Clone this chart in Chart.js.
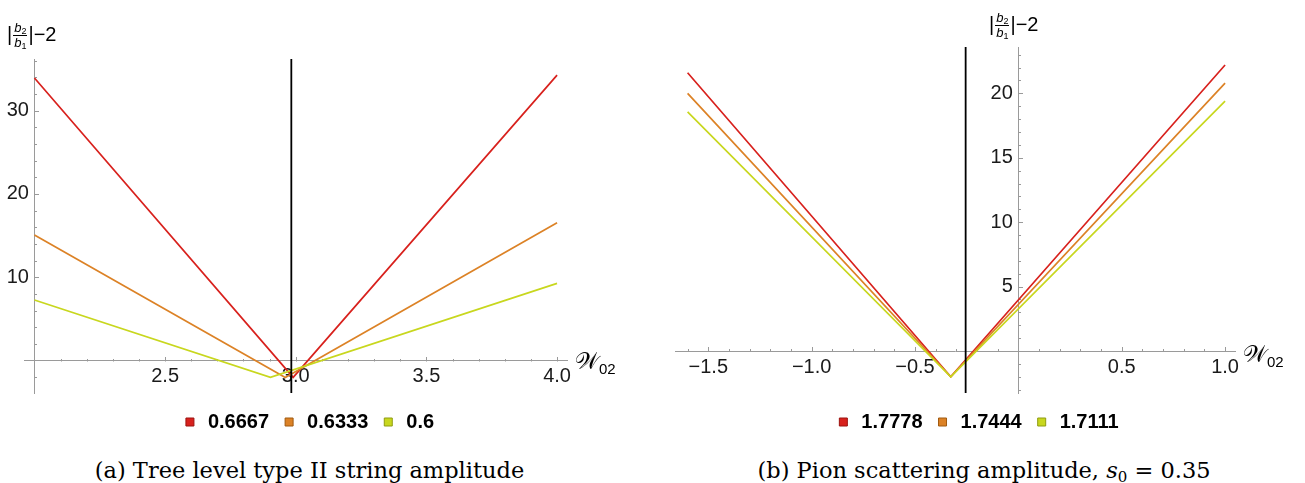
<!DOCTYPE html>
<html>
<head>
<meta charset="utf-8">
<script src="https://cdn.jsdelivr.net/npm/chart.js@4.4.1/dist/chart.umd.min.js"></script>
<style>
html,body{margin:0;padding:0;background:#fff;}
body{width:1305px;height:483px;position:relative;overflow:hidden;font-family:'Liberation Sans',Arial,sans-serif;}
.wrap{position:absolute;top:0;height:445px;}
#wl{left:0;width:640px;}
#wr{left:640px;width:665px;}
.yt{position:absolute;font-size:20px;line-height:20px;color:#000;white-space:nowrap;}
.frac{display:inline-block;vertical-align:middle;text-align:center;font-size:13px;line-height:12px;margin:0 1px;}
.frac .n{display:block;border-bottom:1px solid #000;padding:0 1px 1px 1px;}
.frac .d{display:block;padding-top:1px;}
.frac sub{font-size:9px;line-height:0;vertical-align:-2px;font-style:normal;}
.xt{position:absolute;font-size:23px;line-height:24px;color:#000;white-space:nowrap;font-family:'DejaVu Sans','DejaVu Serif',serif;}
.xt sub{font-family:'Liberation Sans',Arial,sans-serif;font-size:15px;line-height:0;vertical-align:-5px;}
.cap{position:absolute;top:457px;font-family:'DejaVu Serif',serif;font-size:22.5px;line-height:26px;white-space:nowrap;transform:translateX(-50%);color:#000;}
.cap sub{font-size:15px;line-height:0;vertical-align:-4px;}
</style>
</head>
<body>
<div class="wrap" id="wl"><canvas id="cl"></canvas></div>
<div class="wrap" id="wr"><canvas id="cr"></canvas></div>

<div class="yt" style="left:7px;top:22px;">|<span class="frac"><span class="n"><i>b</i><sub>2</sub></span><span class="d"><i>b</i><sub>1</sub></span></span>|&minus;2</div>
<div class="yt" style="left:989px;top:12px;">|<span class="frac"><span class="n"><i>b</i><sub>2</sub></span><span class="d"><i>b</i><sub>1</sub></span></span>|&minus;2</div>

<div class="xt" style="left:575px;top:349px;">&#x1D4B2;<sub>02</sub></div>
<div class="xt" style="left:1243px;top:342px;">&#x1D4B2;<sub>02</sub></div>

<div class="cap" style="left:309.5px;">(a) Tree level type II string amplitude</div>
<div class="cap" style="left:984px;">(b) Pion scattering amplitude, <i>s</i><sub>0</sub> = 0.35</div>

<script>
// ---------------- data ----------------
// Left panel: tree level type II string amplitude
const leftLabels = ['0.6667', '0.6333', '0.6'];
const leftRedX = [2.0, 2.99, 4.0];
const leftRedY = [33.9, -2.0, 34.25];
const leftOrangeX = [2.0, 2.96, 4.0];
const leftOrangeY = [15.07, -2.0, 16.55];
const leftYellowX = [2.0, 2.903, 4.0];
const leftYellowY = [7.28, -2.0, 9.28];
const leftCutX = 2.983;

// Right panel: pion scattering amplitude
const rightLabels = ['1.7778', '1.7444', '1.7111'];
const rightRedX = [-1.6, -0.327, 1.0];
const rightRedY = [21.6, -2.0, 22.2];
const rightOrangeX = [-1.6, -0.327, 1.0];
const rightOrangeY = [20.0, -2.0, 20.8];
const rightYellowX = [-1.6, -0.327, 1.0];
const rightYellowY = [18.56, -2.0, 19.4];
const rightCutX = -0.255;

// axes
const leftXRange = [1.96, 4.038];
const leftYRange = [-3.87, 36.18];
const leftOrigin = [2.0, 0];
const leftXStep = 0.1;
const leftYStep = 2;
const leftXTickLabels = [2.5, 3.0, 3.5, 4.0];
const leftYTickLabels = [10, 20, 30];

const rightXRange = [-1.661, 1.048];
const rightYRange = [-3.26, 23.6];
const rightOrigin = [0, 0];
const rightXStep = 0.1;
const rightYStep = 1;
const rightXTickLabels = [-1.5, -1.0, -0.5, 0.5, 1.0];
const rightYTickLabels = [5, 10, 15, 20];

// ---------------- styling ----------------
const COLORS = ['#d8211d', '#dc8226', '#c8d71e'];
const EDGES = ['#9c1410', '#a05a10', '#8f9c10'];
const AXIS = '#9a9a9a';
const TICKTEXT = '#1a1a1a';

Chart.defaults.font.family = "'Liberation Sans', Arial, sans-serif";

function pts(xs, ys) { return xs.map((x, i) => ({x: x, y: ys[i]})); }
function inList(v, arr) { return arr.some(a => Math.abs(a - v) < 1e-6); }
function fmtX(v) { return (v < 0 ? '\u2212' : '') + Math.abs(v).toFixed(1); }

const inwardTicks = {
  id: 'inwardTicks',
  beforeDatasetsDraw(chart, args, o) {
    const ctx = chart.ctx, xs = chart.scales.x, ys = chart.scales.y;
    const ax = Math.round(xs.getPixelForValue(o.origin[0])) + 0.5;
    const ay = Math.round(ys.getPixelForValue(o.origin[1])) + 0.5;
    ctx.save();
    ctx.strokeStyle = AXIS; ctx.lineWidth = 1;
    ctx.beginPath();
    xs.ticks.forEach(t => {
      if (Math.abs(t.value - o.origin[0]) < 1e-9) return;
      const p = Math.round(xs.getPixelForValue(t.value)) + 0.5;
      const len = inList(t.value, o.xMajor) ? 4.5 : 2.5;
      ctx.moveTo(p, ay); ctx.lineTo(p, ay - len);
    });
    ys.ticks.forEach(t => {
      if (Math.abs(t.value - o.origin[1]) < 1e-9) return;
      const p = Math.round(ys.getPixelForValue(t.value)) + 0.5;
      const len = inList(t.value, o.yMajor) ? 4.5 : 2.5;
      ctx.moveTo(ax, p); ctx.lineTo(ax + len, p);
    });
    ctx.stroke();
    ctx.restore();
  }
};

function series(label, xs, ys, i) {
  return {label: label, data: pts(xs, ys), showLine: true, pointRadius: 0, borderWidth: 1.7,
          borderColor: COLORS[i], backgroundColor: COLORS[i], legendEdge: EDGES[i],
          inLegend: true, order: 3 - i, tension: 0};
}

function makeChart(id, p) {
  const cutLine = {label: '', data: [{x: p.cutX, y: p.yRange[0]}, {x: p.cutX, y: p.yRange[1]}],
                   showLine: true, pointRadius: 0, borderWidth: 1.8, borderColor: '#000',
                   inLegend: false, order: 0};
  return new Chart(document.getElementById(id), {
    type: 'scatter',
    data: {datasets: p.series.concat([cutLine])},
    plugins: [inwardTicks],
    options: {
      responsive: true, maintainAspectRatio: false, animation: false, events: [],
      devicePixelRatio: 1,
      layout: {padding: p.padding},
      scales: {
        x: {
          type: 'linear', min: p.xRange[0], max: p.xRange[1], position: {y: p.origin[1]},
          grid: {display: true, drawOnChartArea: false, drawTicks: false},
          border: {display: true, color: AXIS, width: 1},
          ticks: {stepSize: p.xStep, autoSkip: false, includeBounds: false, maxRotation: 0, padding: 4,
                  color: TICKTEXT, font: {size: 20},
                  callback: v => inList(v, p.xLabels) ? fmtX(v) : ''}
        },
        y: {
          type: 'linear', min: p.yRange[0], max: p.yRange[1], position: {x: p.origin[0]},
          grid: {display: true, drawOnChartArea: false, drawTicks: false},
          border: {display: true, color: AXIS, width: 1},
          ticks: {stepSize: p.yStep, autoSkip: false, includeBounds: false, padding: 4,
                  color: TICKTEXT, font: {size: 20},
                  callback: v => inList(v, p.yLabels) ? String(v) + ' ' : ''}
        },
        yPad: {
          type: 'linear', position: 'right', display: true,
          grid: {display: false, drawTicks: false}, border: {display: false},
          ticks: {display: false},
          afterFit: s => { s.width = p.padAxis; }
        }
      },
      plugins: {
        tooltip: {enabled: false},
        inwardTicks: {origin: p.origin, xMajor: p.xLabels, yMajor: p.yLabels},
        legend: {
          display: true, position: 'bottom', align: 'center', fullSize: true,
          title: {display: true, text: ' ', font: {size: 5}, padding: {top: 1, bottom: 0}},
          labels: {
            usePointStyle: true, pointStyle: 'rect', boxWidth: 16, boxHeight: 8, padding: 12,
            color: '#000', font: {size: 20, weight: 'bold'},
            generateLabels: chart => chart.data.datasets.filter(d => d.inLegend).map(d => ({
              text: d.label, fillStyle: d.borderColor, strokeStyle: d.legendEdge, lineWidth: 1,
              pointStyle: 'rect', hidden: false, fontColor: '#000'
            }))
          }
        }
      }
    }
  });
}

makeChart('cl', {
  series: [series(leftLabels[0], leftRedX, leftRedY, 0),
           series(leftLabels[1], leftOrangeX, leftOrangeY, 1),
           series(leftLabels[2], leftYellowX, leftYellowY, 2)],
  cutX: leftCutX, xRange: leftXRange, yRange: leftYRange, origin: leftOrigin,
  xStep: leftXStep, yStep: leftYStep, xLabels: leftXTickLabels, yLabels: leftYTickLabels,
  padding: {left: 24, top: 59, right: 48, bottom: 3}, padAxis: 25
});

makeChart('cr', {
  series: [series(rightLabels[0], rightRedX, rightRedY, 0),
           series(rightLabels[1], rightOrangeX, rightOrangeY, 1),
           series(rightLabels[2], rightYellowX, rightYellowY, 2)],
  cutX: rightCutX, xRange: rightXRange, yRange: rightYRange, origin: rightOrigin,
  xStep: rightXStep, yStep: rightYStep, xLabels: rightXTickLabels, yLabels: rightYTickLabels,
  padding: {left: 35, top: 47, right: 26, bottom: 3}, padAxis: 44
});
</script>
</body>
</html>
